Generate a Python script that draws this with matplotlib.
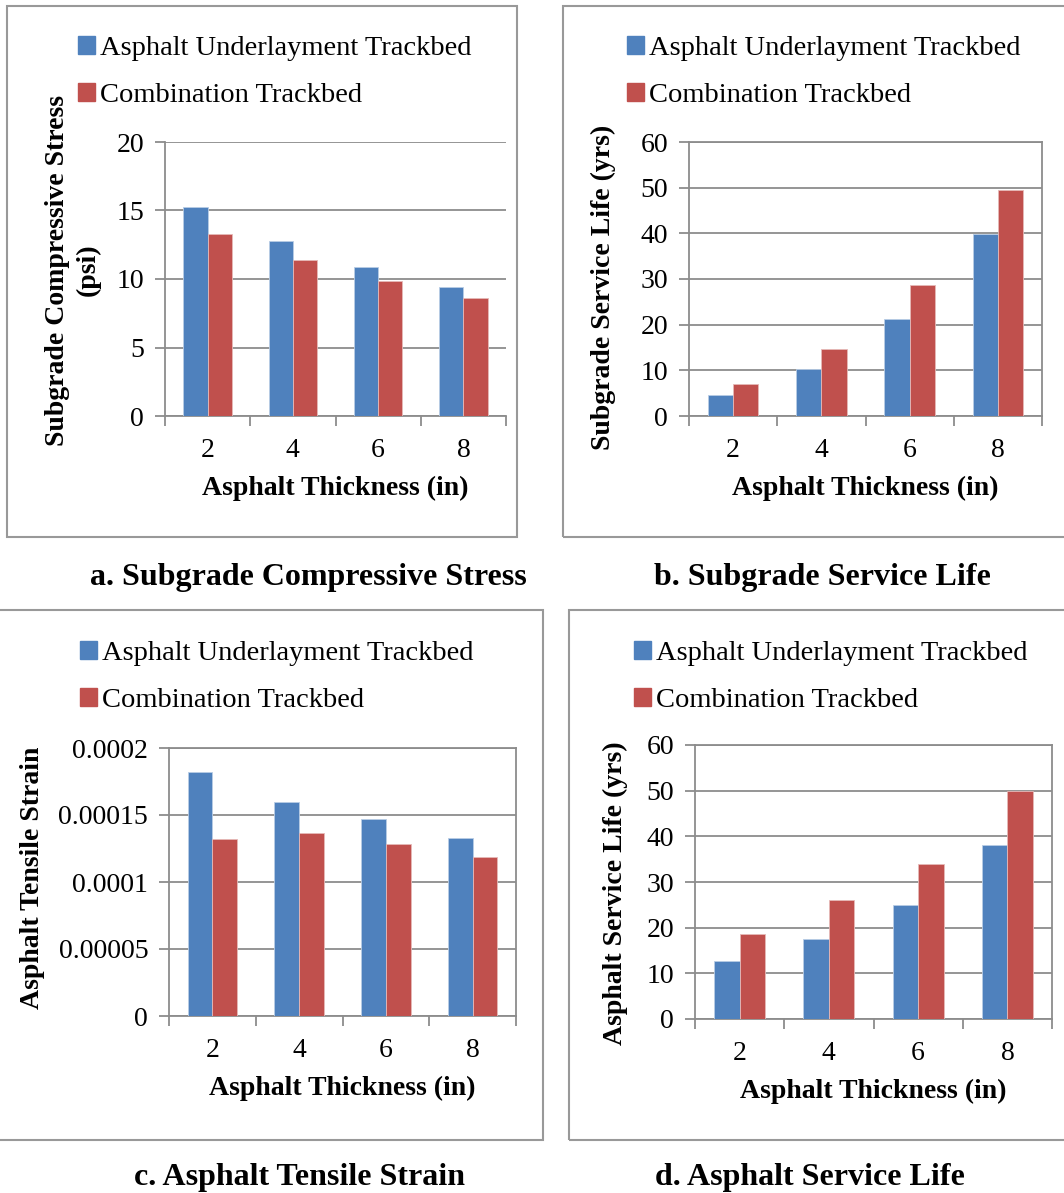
import numpy as np
import matplotlib
matplotlib.use("Agg")
import matplotlib.pyplot as plt
from matplotlib.patches import Rectangle, Patch

# data
thickness = ["2", "4", "6", "8"]
series_names = ["Asphalt Underlayment Trackbed", "Combination Trackbed"]

stress_asphalt = [15.27, 12.76, 10.84, 9.38]
stress_combo = [13.25, 11.38, 9.84, 8.62]

sg_life_asphalt = [4.7, 10.4, 21.3, 39.8]
sg_life_combo = [6.9, 14.6, 28.6, 49.4]

strain_asphalt = [0.000182, 0.0001595, 0.0001473, 0.0001332]
strain_combo = [0.0001319, 0.0001369, 0.0001287, 0.0001183]

as_life_asphalt = [12.6, 17.6, 24.9, 38.2]
as_life_combo = [18.6, 26.0, 34.0, 49.9]

BLUE = "#4F81BD"
RED = "#C0504D"
GRID = "#8C8C8C"
W, H = 1064, 1193
SERIF = "Liberation Serif"

plt.rcParams["font.family"] = SERIF

fig = plt.figure(figsize=(W / 100, H / 100), dpi=100)


def px_axes(x0, y0, x1, y1):
    # pixel box (top-left origin) -> figure axes
    return fig.add_axes([x0 / W, 1 - y1 / H, (x1 - x0) / W, (y1 - y0) / H])


def frame(x0, y0, x1, y1):
    fig.patches.append(Rectangle((x0 / W, 1 - y1 / H), (x1 - x0) / W, (y1 - y0) / H,
                                 transform=fig.transFigure, fill=False,
                                 edgecolor="#999999", lw=1.5))


def panel(box, vals_a, vals_c, ymax, ystep, ylabel, ylab_xy, leg_xy, caption, cap_xy,
          right_frame=True, yfmt=None):
    ax = px_axes(*box)
    x = np.arange(len(thickness))
    w = 1 / 3.5
    ax.bar(x - w / 2, vals_a, w, color=BLUE, edgecolor="#B9CDE5", lw=0.6, zorder=3)
    ax.bar(x + w / 2, vals_c, w, color=RED, edgecolor="#E6B9B8", lw=0.6, zorder=3)
    ax.set_xlim(-0.5, len(thickness) - 0.5)
    ax.set_ylim(0, ymax)
    ticks = np.arange(0, ymax + ystep / 2, ystep)
    ax.set_yticks(ticks)
    if yfmt:
        ax.set_yticklabels([yfmt(t) for t in ticks])
    ax.yaxis.grid(True, color=GRID, lw=1.3, zorder=0)
    ax.set_axisbelow(True)
    ax.set_xticks(x)
    ax.set_xticklabels(thickness)
    ax.set_xticks(np.arange(-0.5, len(thickness)), minor=True)
    ax.tick_params(axis="x", which="major", length=0, pad=16, labelsize=20)
    ax.tick_params(axis="x", which="minor", length=7, width=1.3, color=GRID)
    ax.tick_params(axis="y", length=7, width=1.3, color=GRID, pad=8, labelsize=20)
    for s in ["left", "bottom"]:
        ax.spines[s].set_color(GRID)
        ax.spines[s].set_linewidth(1.3)
    for s in ["top", "right"]:
        ax.spines[s].set_visible(right_frame)
        ax.spines[s].set_color(GRID)
        ax.spines[s].set_linewidth(1.3)
    ax.set_xlabel("Asphalt Thickness (in)", fontsize=20, fontweight="bold", labelpad=9)
    fig.text(ylab_xy[0] / W, 1 - ylab_xy[1] / H, ylabel, rotation=90, ha="center",
             va="center", fontsize=20, fontweight="bold", linespacing=1.3)
    handles = [Patch(color=BLUE), Patch(color=RED)]
    fig.legend(handles, series_names, loc="upper left",
               bbox_to_anchor=(leg_xy[0] / W, 1 - leg_xy[1] / H), frameon=False,
               fontsize=20.5, handlelength=0.6, handleheight=0.6, handletextpad=0.18,
               labelspacing=0.78, borderpad=0, borderaxespad=0)
    fig.text(cap_xy[0] / W, 1 - cap_xy[1] / H, caption, ha="center", va="center",
             fontsize=23, fontweight="bold", family="Liberation Serif")
    return ax


# outer frames
frame(7, 6, 517, 537)
frame(563, 6, 1070, 537)
frame(-5, 610, 543, 1140)
frame(569, 610, 1070, 1140)

panel((165, 142, 506, 416), stress_asphalt, stress_combo, 20, 5,
      "Subgrade Compressive Stress\n(psi)", (73, 270), (78, 36),
      "a. Subgrade Compressive Stress", (308, 578), right_frame=False)

panel((689, 142, 1042, 416), sg_life_asphalt, sg_life_combo, 60, 10,
      "Subgrade Service Life (yrs)", (603, 287), (627, 36),
      "b. Subgrade Service Life", (822, 578))

panel((169, 748, 516, 1016), strain_asphalt, strain_combo, 0.0002, 0.00005,
      "Asphalt Tensile Strain", (33, 878), (80, 641),
      "c. Asphalt Tensile Strain", (300, 1178),
      yfmt=lambda t: "0" if t == 0 else f"{t:.5f}".rstrip("0"))

panel((695, 745, 1052, 1019), as_life_asphalt, as_life_combo, 60, 10,
      "Asphalt Service Life (yrs)", (615, 893), (634, 641),
      "d. Asphalt Service Life", (810, 1178))

fig.savefig("out.png", dpi=100)
